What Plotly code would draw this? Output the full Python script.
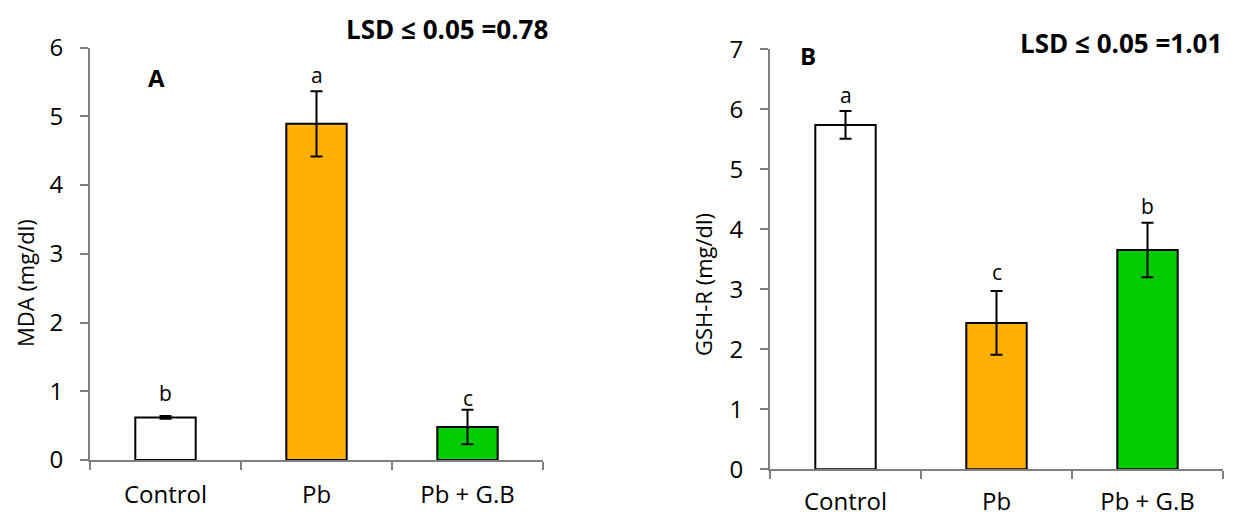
import plotly.graph_objects as go

categories = ["Control", "Pb", "Pb + G.B"]
bar_colors = ["#FFFFFF", "#FFB000", "#00CC00"]

# Panel A: MDA
mda_values = [0.62, 4.89, 0.48]
mda_errors = [0.02, 0.475, 0.25]
mda_letters = ["b", "a", "c"]
mda_lsd = "LSD ≤ 0.05 =0.78"

# Panel B: GSH-R
gsh_values = [5.74, 2.44, 3.655]
gsh_errors = [0.23, 0.53, 0.455]
gsh_letters = ["a", "c", "b"]
gsh_lsd = "LSD ≤ 0.05 =1.01"

FONT = "Open Sans"
W, H = 1233, 515
OFF = 8  # the page body adds an 8 px margin; place everything relative to the visible page

# pixel nudges for the significance letters (layout only)
mda_letter_shift = [7, 0, -4]
gsh_letter_shift = [0, 3, 1]


def px_x(p):
    return (p - OFF) / W


def px_y(p):
    return 1 - (p - OFF) / H


fig = go.Figure()

for vals, errs, xa, ya in [(mda_values, mda_errors, "x", "y"), (gsh_values, gsh_errors, "x2", "y2")]:
    fig.add_trace(go.Bar(
        x=categories, y=vals, xaxis=xa, yaxis=ya, width=0.4,
        marker=dict(color=bar_colors, line=dict(color="black", width=2)),
        error_y=dict(type="data", array=errs, visible=True, color="black", thickness=2, width=6),
        showlegend=False, hoverinfo="skip",
    ))

axis_common = dict(showline=True, linecolor="#808080", linewidth=2, showgrid=False, zeroline=False,
                   ticks="outside", tickcolor="#808080", tickwidth=2, automargin=False,
                   tickfont=dict(family=FONT, size=24, color="black"))

fig.update_layout(
    width=W, height=H, margin=dict(l=0, r=0, t=0, b=0, autoexpand=False),
    plot_bgcolor="white", paper_bgcolor="white",
    bargap=0.6,
    xaxis=dict(domain=[px_x(90), px_x(543)], anchor="y", type="category", tickson="boundaries",
               ticklen=8, ticklabelstandoff=12, **axis_common),
    yaxis=dict(domain=[px_y(460), px_y(47.5)], anchor="x", range=[0, 6], dtick=1,
               ticklen=8, ticklabelstandoff=12, **axis_common),
    xaxis2=dict(domain=[px_x(770), px_x(1223)], anchor="y2", type="category", tickson="boundaries",
                ticklen=8, ticklabelstandoff=10, **axis_common),
    yaxis2=dict(domain=[px_y(469.3), px_y(49.3)], anchor="x2", range=[0, 7], dtick=1,
                ticklen=8, ticklabelstandoff=12, **axis_common),
)

annotations = []
# letters above error bars
for vals, errs, letters, shifts, xr, yr in [
        (mda_values, mda_errors, mda_letters, mda_letter_shift, "x", "y"),
        (gsh_values, gsh_errors, gsh_letters, gsh_letter_shift, "x2", "y2")]:
    for c, v, e, l, s in zip(categories, vals, errs, letters, shifts):
        annotations.append(dict(x=c, y=v + e, xref=xr, yref=yr, text=l, showarrow=False,
                                yanchor="bottom", yshift=s,
                                font=dict(family=FONT, size=21, color="black")))

# y-axis titles
annotations.append(dict(x=px_x(25), y=px_y(283), xref="paper", yref="paper", text="MDA (mg/dl)",
                        textangle=-90, showarrow=False, xanchor="center", yanchor="middle",
                        font=dict(family=FONT, size=22, color="black")))
annotations.append(dict(x=px_x(703), y=px_y(285), xref="paper", yref="paper", text="GSH-R (mg/dl)",
                        textangle=-90, showarrow=False, xanchor="center", yanchor="middle",
                        font=dict(family=FONT, size=22, color="black")))
# panel letters
annotations.append(dict(x=px_x(156), y=px_y(78), xref="paper", yref="paper", text="<b>A</b>",
                        showarrow=False, xanchor="center", yanchor="middle",
                        font=dict(family=FONT, size=24, color="black")))
annotations.append(dict(x=px_x(808), y=px_y(55), xref="paper", yref="paper", text="<b>B</b>",
                        showarrow=False, xanchor="center", yanchor="middle",
                        font=dict(family=FONT, size=24, color="black")))
# LSD labels
annotations.append(dict(x=px_x(550), y=px_y(29), xref="paper", yref="paper", text="<b>" + mda_lsd + "</b>",
                        showarrow=False, xanchor="right", yanchor="middle",
                        font=dict(family=FONT, size=26, color="black")))
annotations.append(dict(x=px_x(1224), y=px_y(43), xref="paper", yref="paper", text="<b>" + gsh_lsd + "</b>",
                        showarrow=False, xanchor="right", yanchor="middle",
                        font=dict(family=FONT, size=26, color="black")))

fig.update_layout(annotations=annotations)
fig.write_html("out.html")
